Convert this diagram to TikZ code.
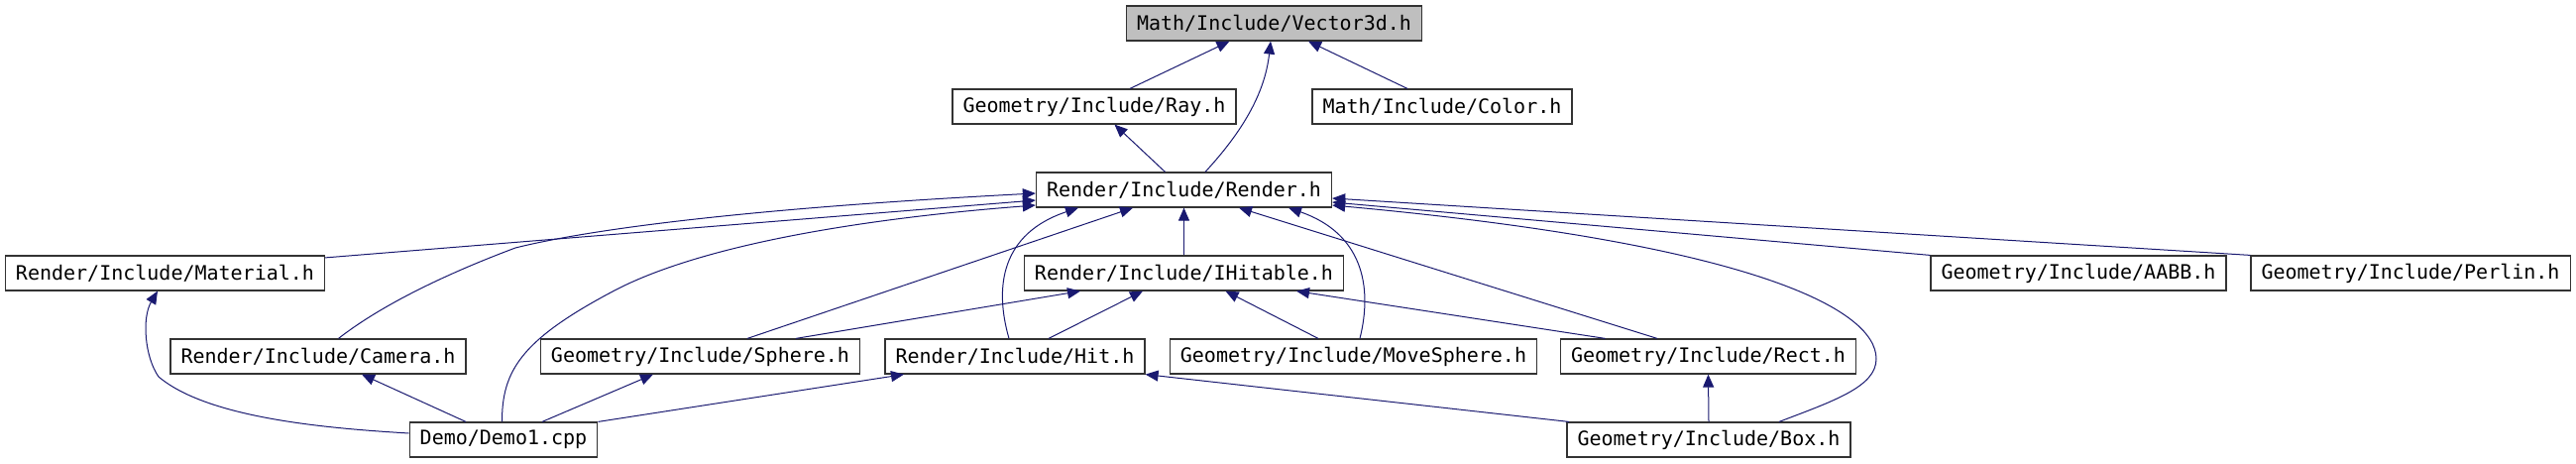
\documentclass[tikz,border=0pt]{standalone}
\usepackage{fontspec}
\setmonofont{DejaVu Sans Mono}
\usepackage{tikz}
\usetikzlibrary{arrows.meta, calc}

\definecolor{edgeblue}{HTML}{191970}
\definecolor{rootgray}{HTML}{BFBFBF}

\begin{document}
\begin{tikzpicture}[x=0.5pt, y=-0.5pt,
	file/.style={draw=black!80, line width=0.6pt, fill=white, rectangle,
		inner xsep=5.3pt, inner ysep=0pt, minimum height=17.5pt,
		font=\ttfamily\fontsize{10}{12}\selectfont},
	rootfile/.style={file, fill=rootgray},
	dep/.style={draw=edgeblue, line width=0.5pt, -{Triangle[length=6.5pt, width=5.5pt]}}]
				% ============================================================
				% jednostka = 1 px obrazka (2599 x 467), y w dol
				% ============================================================
				\path[fill=white] (0,0) rectangle (2599,467);
				\useasboundingbox (0,0) rectangle (2599,467);
				
				% === WEZLY: rzad 0 i 1 ===
				\node[rootfile] (vec) at (1285.5, 23.5) {Math/Include/Vector3d.h};
				\node[file] (ray) at (1104, 107.5) {Geometry/Include/Ray.h};
				\node[file] (color) at (1455, 107.5) {Math/Include/Color.h};
				
				% === WEZLY: rzad 2 i 3 ===
				\node[file] (render) at (1194.5, 191.5) {Render/Include/Render.h};
				\node[file] (material) at (166.5, 275.5) {Render/Include/Material.h};
				\node[file] (ihit) at (1194.5, 275.5) {Render/Include/IHitable.h};
				\node[file] (aabb) at (2097, 275.5) {Geometry/Include/AABB.h};
				\node[file] (perlin) at (2432, 275.5) {Geometry/Include/Perlin.h};
				
				% === WEZLY: rzad 4 i 5 ===
				\node[file] (camera) at (321, 359.5) {Render/Include/Camera.h};
				\node[file] (sphere) at (706.5, 359.5) {Geometry/Include/Sphere.h};
				\node[file] (hit) at (1024, 359.5) {Render/Include/Hit.h};
				\node[file] (movesph) at (1365.5, 359.5) {Geometry/Include/MoveSphere.h};
				\node[file] (rect) at (1723.5, 359.5) {Geometry/Include/Rect.h};
				\node[file] (demo) at (508, 443.5) {Demo/Demo1.cpp};
				\node[file] (box) at (1724, 443.5) {Geometry/Include/Box.h};
				
				% === 1. -> Vector3d.h ===
				\draw[dep] ($(ray.north)+(36,0)$) -- ($(vec.south)+(-45,0)$);
				\draw[dep] ($(render.north)+(21.5,0)$)
				.. controls +(36,-39) and +(-6,54) .. ($(vec.south)+(-3.5,0)$);
				\draw[dep] ($(color.north)+(-35,0)$) -- ($(vec.south)+(34.5,0)$);
				
				% === 2. -> Ray.h ===
				\draw[dep] ($(render.north)+(-19,0)$) -- ($(ray.south)+(20.5,0)$);
				
				% === 3. -> Render.h (z lewej) ===
				\draw[dep] ($(material.north east)+(0,2.5)$) -- ($(render.west)+(0,10.5)$);
				\draw[dep] ($(camera.north)+(20.5,0)$)
				.. controls +(38.5,-30) and +(-80,30) .. (520,250)
				.. controls +(60,-15) and +(-325,17) .. ($(render.west)+(0,3.5)$);
				\draw[dep] ($(demo.north)+(-1.5,0)$)
				.. controls +(0,-51) and +(-95,50) .. (620,293)
				.. controls +(80,-42) and +(-195,15) .. ($(render.west)+(0,15.5)$);
				
				% === 4. -> Render.h (z dolu) ===
				\draw[dep] ($(hit.north)+(-6,0)$)
				.. controls +(-15,-52) and +(-78,26) .. ($(render.south)+(-106.5,0)$);
				\draw[dep] ($(sphere.north)+(47.5,0)$) -- ($(render.south)+(-51.5,0)$);
				\draw[dep] (ihit.north) -- (render.south);
				\draw[dep] ($(rect.north)+(-51.5,0)$) -- ($(render.south)+(55.5,0)$);
				\draw[dep] ($(movesph.north)+(6.5,0)$)
				.. controls +(13,-52) and +(75,26) .. ($(render.south)+(105.5,0)$);
				
				% === 5. -> Render.h (z prawej) ===
				\draw[dep] (perlin.north west) -- ($(render.east)+(0,8.5)$);
				\draw[dep] (aabb.north west) -- ($(render.east)+(0,12.5)$);
				\draw[dep] ($(box.north)+(71,0)$)
				.. controls +(55,-21) and +(0,28) .. (1893,362)
				.. controls +(0,-52) and +(416,38) .. ($(render.east)+(0,15.5)$);
				
				% === 6. -> IHitable.h ===
				\draw[dep] ($(sphere.north)+(96.5,0)$) -- ($(ihit.south)+(-104.5,0)$);
				\draw[dep] ($(hit.north)+(34,0)$) -- ($(ihit.south)+(-41.5,0)$);
				\draw[dep] ($(movesph.north)+(-35.5,0)$) -- ($(ihit.south)+(42,0)$);
				\draw[dep] ($(rect.north)+(-104,0)$) -- ($(ihit.south)+(113.5,0)$);
				
				% === 7. Demo1.cpp i Box.h ===
				\draw[dep] ($(demo.west)+(0,-6.5)$)
				.. controls +(-82.5,-5) and +(50,42) .. (160,380)
				.. controls +(-14,-20) and +(-16,27) .. ($(material.south)+(-7.5,0)$);
				\draw[dep] ($(demo.north)+(-38,0)$) -- ($(camera.south)+(44,0)$);
				\draw[dep] ($(demo.north)+(39,0)$) -- ($(sphere.south)+(-47.5,0)$);
				\draw[dep] (demo.north east) -- ($(hit.south)+(-112,0)$);
				\draw[dep] ($(box.north west)+(2.5,0)$) -- (hit.south east);
				\draw[dep] (box.north) -- (rect.south);
				
			\end{tikzpicture}
\end{document}
